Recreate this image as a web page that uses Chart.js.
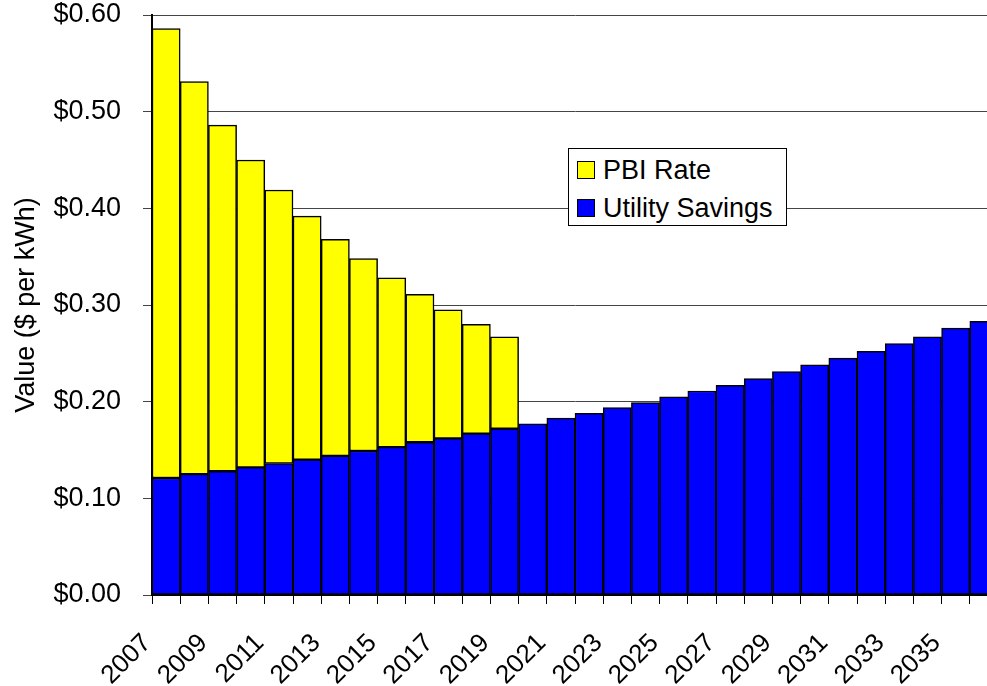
<!DOCTYPE html>
<html>
<head>
<meta charset="utf-8">
<script src="https://cdn.jsdelivr.net/npm/chart.js@4/dist/chart.umd.min.js"></script>
<style>
  body { margin: 0; overflow: hidden; background: #fff; }
  #wrap { position: relative; width: 998px; height: 686px; }
  #legend {
    position: absolute; left: 568px; top: 148px; width: 217px; height: 76px;
    border: 1px solid #000; background: #fff;
    font-family: "Liberation Sans", Arial, sans-serif; font-size: 27px; color: #000;
  }
  #legend .item { position: absolute; left: 8px; height: 30px; line-height: 30px; white-space: nowrap; }
  #legend .sw { position: absolute; left: 0; top: 6px; width: 16px; height: 16px; border: 1px solid #000; }
  #legend .lbl { position: absolute; left: 26px; top: 0; }
</style>
</head>
<body>
<div id="wrap">
  <canvas id="chart" width="998" height="686"></canvas>
  <div id="legend"></div>
</div>
<script>
const years = ["2007","2008","2009","2010","2011","2012","2013","2014","2015","2016",
  "2017","2018","2019","2020","2021","2022","2023","2024","2025","2026",
  "2027","2028","2029","2030","2031","2032","2033","2034","2035","2036"];

const utilitySavings = [0.121,0.125,0.128,0.132,0.136,0.140,0.144,0.149,0.153,0.158,
  0.162,0.167,0.172,0.177,0.183,0.188,0.194,0.199,0.205,0.211,
  0.217,0.224,0.231,0.238,0.245,0.252,0.260,0.267,0.276,0.283];

const pbiRate = [0.465,0.406,0.358,0.318,0.283,0.252,0.224,0.199,0.175,0.153,
  0.133,0.113,0.095,null,null,null,null,null,null,null,
  null,null,null,null,null,null,null,null,null,null];

const yTicks = [0, 0.1, 0.2, 0.3, 0.4, 0.5, 0.6];

const font = "'Liberation Sans', Arial, sans-serif";
Chart.defaults.font.family = font;
Chart.defaults.color = "#000";

const ctx = document.getElementById("chart").getContext("2d");
const chart = new Chart(ctx, {
  type: "bar",
  data: {
    labels: years,
    datasets: [
      {
        label: "Utility Savings",
        data: utilitySavings,
        backgroundColor: "#0000FF",
        borderColor: "#000",
        borderWidth: 1.5,
        borderSkipped: false,
      },
      {
        label: "PBI Rate",
        data: pbiRate,
        backgroundColor: "#FFFF00",
        borderColor: "#000",
        borderWidth: 1.5,
        borderSkipped: false,
      },
    ],
  },
  options: {
    responsive: false,
    animation: false,
    layout: { padding: { top: 15, right: 0, left: 0, bottom: 0 } },
    datasets: { bar: { categoryPercentage: 1, barPercentage: 1 } },
    plugins: { legend: { display: false }, tooltip: { enabled: false } },
    scales: {
      x: {
        stacked: true,
        border: { color: "#000", width: 2 },
        grid: { offset: true, drawOnChartArea: false, tickLength: 9, color: "#000" },
        ticks: {
          autoSkip: false,
          maxRotation: 45,
          minRotation: 45,
          padding: 24,
          labelOffset: -19,
          font: { size: 26 },
          callback: (v, i) => (i % 2 === 0 ? years[i] : ""),
        },
        afterFit: (s) => {
          s.height = 91;
          s.paddingLeft = 0;
          s.paddingRight = 0;
        },
      },
      y: {
        stacked: true,
        min: 0,
        max: 0.6,
        afterBuildTicks: (s) => { s.ticks = yTicks.map((v) => ({ value: v })); },
        border: { color: "#000", width: 2 },
        grid: { color: "#444", tickLength: 9 },
        ticks: {
          padding: 22,
          font: { size: 27 },
          callback: (v) => "$" + Number(v).toFixed(2),
        },
        title: {
          display: true,
          text: "Value ($ per kWh)",
          font: { size: 27 },
          padding: { top: 10, bottom: 0 },
        },
        afterFit: (s) => {
          s.width = 152;
          s.paddingTop = 0;
          s.paddingBottom = 0;
        },
      },
    },
  },
});

// legend box, drawn from the chart's datasets (top series first)
const legend = document.getElementById("legend");
chart.data.datasets.slice().reverse().forEach((ds, i) => {
  const item = document.createElement("div");
  item.className = "item";
  item.style.top = (6 + i * 38) + "px";
  item.innerHTML = '<span class="sw" style="background:' + ds.backgroundColor + '"></span>' +
    '<span class="lbl">' + ds.label + "</span>";
  legend.appendChild(item);
});
</script>
</body>
</html>
